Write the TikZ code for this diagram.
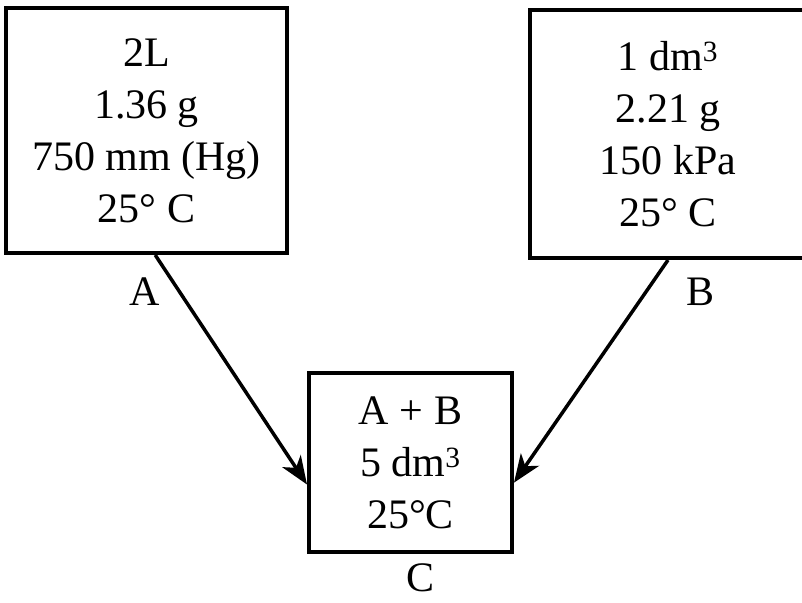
\documentclass[tikz,border=0pt]{standalone}
\usepackage{fontspec}
\setmainfont{Liberation Serif}
\usepackage{tikz}
\usetikzlibrary{arrows.meta}

\begin{document}
\begin{tikzpicture}[x=1pt, y=1pt,
      box/.style={draw=black, line width=4pt, align=center, font=\fontsize{42}{52}\selectfont, inner sep=0pt},
      lab/.style={font=\fontsize{42}{48}\selectfont, inner sep=0pt},
      arrow/.style={-{Stealth[length=28pt, width=22pt, inset=8pt]}, line width=3.5pt}]
    \useasboundingbox (0,0) rectangle (802,-602);
    \clip (0,0) rectangle (802,-602);
    \node[box, minimum width=281pt, minimum height=245pt] (boxA) at (146.5, -130.5)
      {2L\\1.36 g\\750 mm (Hg)\\25° C};
    \node[box, minimum width=276pt, minimum height=248pt] (boxB) at (668, -134)
      {1 dm\textsuperscript{3}\\2.21 g\\150 kPa\\25° C};
    \node[box, minimum width=203pt, minimum height=179pt] (boxC) at (410.5, -462.5)
      {A + B\\5 dm\textsuperscript{3}\\25°C};
    \node[lab] (labA) at (145, -292) {A};
    \node[lab] (labB) at (700, -292) {B};
    \node[lab] (labC) at (420, -578) {C};
    \draw[arrow] (boxA.-86) -- (boxC.192);
    \draw[arrow] (boxB.south) -- (boxC.-11.5);
  \end{tikzpicture}
\end{document}
